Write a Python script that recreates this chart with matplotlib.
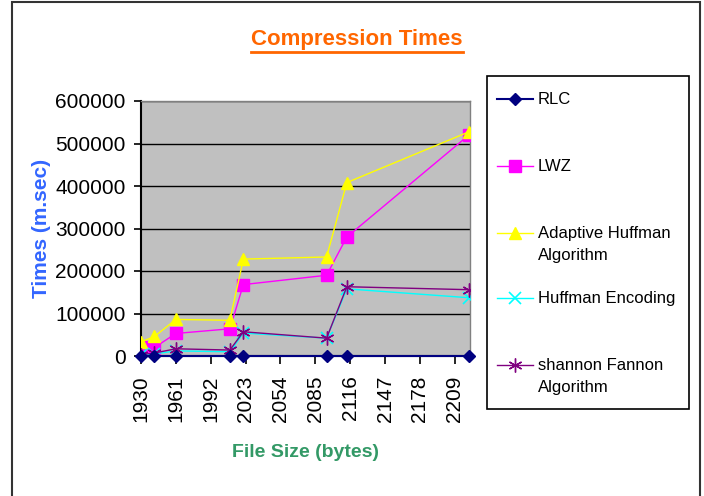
import matplotlib
matplotlib.use("Agg")
import matplotlib.pyplot as plt
from matplotlib.patches import Rectangle
from matplotlib.lines import Line2D

plt.rcParams['font.family'] = ['Liberation Sans', 'DejaVu Sans']

# file sizes (bytes) and times (m.sec)
file_size = [1930, 1942, 1961, 2009, 2021, 2095, 2113, 2222]
rlc = [500, 500, 500, 500, 500, 500, 500, 500]
lwz = [21000, 20000, 53000, 64000, 168000, 190000, 280000, 521000]
adaptive_huffman = [33000, 46000, 86000, 84000, 228000, 233000, 408000, 528000]
huffman_enc = [2000, 5000, 12000, 10000, 54000, 42000, 158000, 137000]
shannon_fannon = [3000, 7000, 17000, 14000, 57000, 42000, 163000, 156000]

x_ticks = list(range(1930, 2210, 31))
y_ticks = [0, 100000, 200000, 300000, 400000, 500000, 600000]

fig = plt.figure(figsize=(7.04, 4.96), dpi=100)
ax = fig.add_axes([141 / 704, 1 - 356 / 496, 329 / 704, 255 / 496])
ax.set_facecolor('#C0C0C0')

lines = {}
lines['LWZ'] = ax.plot(file_size, lwz, color='#FF00FF', marker='s', markersize=8, lw=1.0, zorder=3)[0]
lines['Adaptive Huffman\nAlgorithm'] = ax.plot(file_size, adaptive_huffman, color='#FFFF00', marker='^',
                                               markersize=9, lw=1.0, zorder=4)[0]
lines['Huffman Encoding'] = ax.plot(file_size, huffman_enc, color='#00FFFF', marker='x', markersize=8,
                                    mew=1.2, lw=1.0, zorder=5)[0]
lines['shannon Fannon\nAlgorithm'] = ax.plot(file_size, shannon_fannon, color='#800080', marker=(6, 2, 0),
                                             markersize=10, mew=1.0, lw=1.0, zorder=6)[0]
lines['RLC'] = ax.plot(file_size, rlc, color='#000080', marker='D', markersize=6, lw=1.5,
                       zorder=7, clip_on=False)[0]

ax.set_xlim(1930, 2222.5)
ax.set_ylim(0, 600000)
ax.set_xticks(x_ticks)
ax.set_yticks(y_ticks)
ax.set_xticklabels([str(v) for v in x_ticks], rotation=90, fontsize=15)
ax.set_yticklabels([str(v) for v in y_ticks], fontsize=15)
ax.tick_params(axis='x', direction='out', length=6, width=1.2, pad=8)
ax.tick_params(axis='y', direction='out', length=5, width=1.2, pad=6)
ax.yaxis.grid(True, color='black', lw=1.0)
ax.set_axisbelow(True)
for s in ['left', 'bottom']:
    ax.spines[s].set_color('black')
    ax.spines[s].set_linewidth(1.5)
for s in ['top', 'right']:
    ax.spines[s].set_color('#808080')
    ax.spines[s].set_linewidth(1.0)

ax.set_ylabel('Times (m.sec)', fontsize=15, fontweight='bold', color='#3366FF', labelpad=3)
ax.set_xlabel('File Size (bytes)', fontsize=14, fontweight='bold', color='#339966', labelpad=16)

# title with underline
title = fig.text(357 / 704, 1 - 40 / 496, 'Compression Times', fontsize=16, fontweight='bold',
                 color='#FF6600', ha='center', va='center')
fig.canvas.draw()
bb = title.get_window_extent().transformed(fig.transFigure.inverted())
fig.add_artist(Line2D([bb.x0, bb.x1], [bb.y0 - 0.004, bb.y0 - 0.004],
                      color='#FF6600', lw=2.0, transform=fig.transFigure))

# legend box, Excel style: marker on the first line of each label
fig.add_artist(Rectangle((487 / 704, 1 - 409 / 496), 202 / 704, 333 / 496, fill=False,
                         edgecolor='black', lw=1.2, transform=fig.transFigure))
legend_order = ['RLC', 'LWZ', 'Adaptive Huffman\nAlgorithm', 'Huffman Encoding', 'shannon Fannon\nAlgorithm']
legend_y = [99, 166, 233, 298, 365]
for name, ypx in zip(legend_order, legend_y):
    src = lines[name]
    yf = 1 - ypx / 496
    fig.add_artist(Line2D([497 / 704, 533 / 704], [yf, yf], transform=fig.transFigure,
                          color=src.get_color(), lw=src.get_linewidth()))
    fig.add_artist(Line2D([515 / 704], [yf], transform=fig.transFigure, linestyle='none',
                          marker=src.get_marker(), markersize=src.get_markersize(),
                          mew=src.get_markeredgewidth(), color=src.get_color()))
    fig.text(538 / 704, yf + 7 / 496, name, fontsize=12, ha='left', va='top', linespacing=1.6)

# outer chart border
fig.add_artist(Rectangle((12 / 704, -0.01), 688 / 704, 1 - 2 / 496 + 0.01, fill=False,
                         edgecolor='#333333', lw=1.5, transform=fig.transFigure))

fig.savefig('out.png', dpi=100)
